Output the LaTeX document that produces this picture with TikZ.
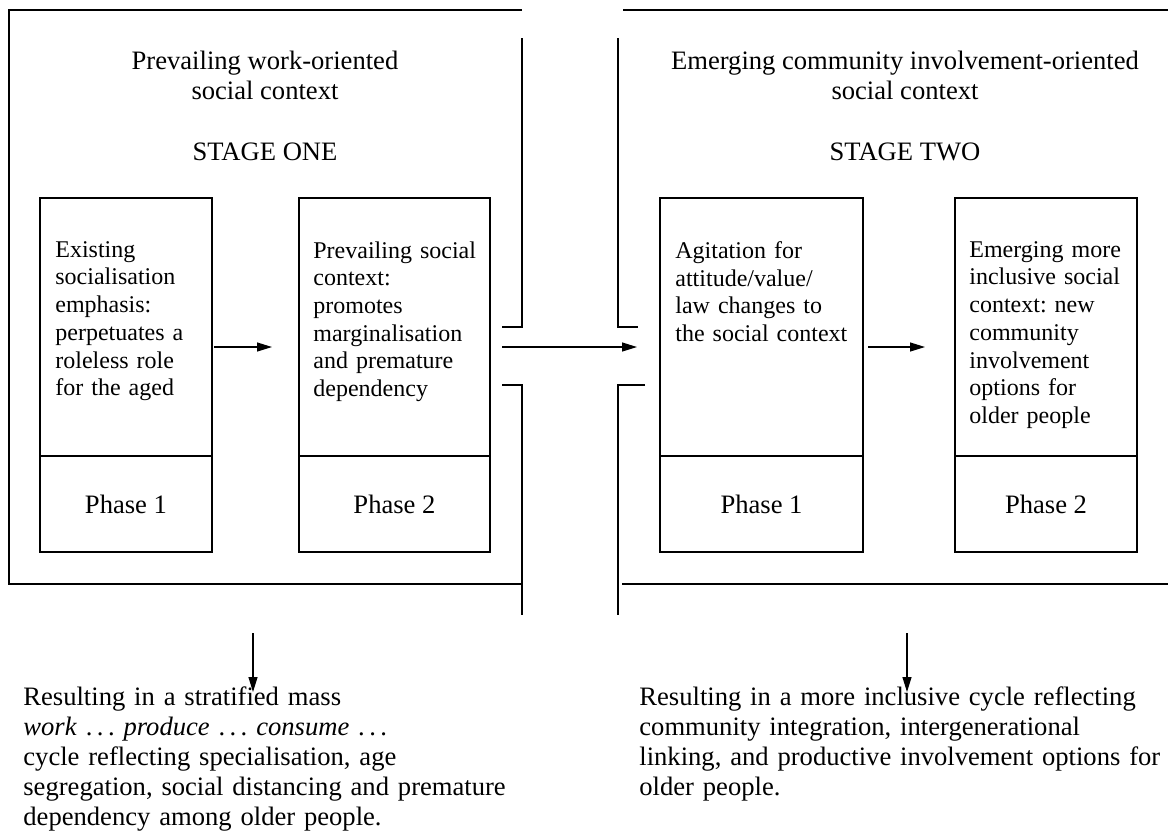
\documentclass[tikz,border=0pt]{standalone}
\usepackage{fontspec}
\setmainfont{Liberation Serif}
\usetikzlibrary{arrows.meta}
\frenchspacing

\begin{document}
\begin{tikzpicture}[x=0.5pt,y=-0.5pt,
    frame/.style={line width=1pt},
    cell/.style={draw,line width=0.9pt,inner sep=0pt,outer sep=0pt,anchor=north west,
      font=\fontsize{13.3}{15}\selectfont},
    boxtext/.style={anchor=north west,inner sep=0pt,text width=95pt,align=left,
      font=\fontsize{12}{13.85}\selectfont},
    heading/.style={align=center,inner sep=0pt,font=\fontsize{13.3}{15}\selectfont},
    result/.style={anchor=north west,inner sep=0pt,text width=265pt,align=left,
      font=\fontsize{13.3}{15.1}\selectfont},
    arr/.style={line width=0.6pt,-{Triangle[length=7.5pt,width=4.5pt]}}]

  \useasboundingbox (0,0) rectangle (1168,832);

  % Stage one frame
  \draw[frame] (522,10) -- (9,10) -- (9,584) -- (522,584);
  \draw[frame] (522,38) -- (522,327) -- (502,327);
  \draw[frame] (502,385) -- (522,385) -- (522,615);

  % Stage two frame
  \draw[frame] (623,10) -- (1168,10);
  \draw[frame] (618,38) -- (618,327) -- (638,327);
  \draw[frame] (645,385) -- (618,385) -- (618,615);
  \draw[frame] (622,584) -- (1168,584);

  % Headings
  \node[heading] (ctxOne) at (265,75) {Prevailing work-oriented\\social context};
  \node[heading,anchor=base] (stageOne) at (265,160) {STAGE ONE};
  \node[heading] (ctxTwo) at (905,75) {Emerging community involvement-oriented\\social context};
  \node[heading,anchor=base] (stageTwo) at (905,160) {STAGE TWO};

  % Phase boxes
  \node[cell,minimum width=86pt,minimum height=129pt] (stepA) at (40,198) {};
  \node[cell,minimum width=86pt,minimum height=48pt] (phaseA) at (stepA.south west) {Phase 1};
  \node[cell,minimum width=95.5pt,minimum height=129pt] (stepB) at (299,198) {};
  \node[cell,minimum width=95.5pt,minimum height=48pt] (phaseB) at (stepB.south west) {Phase 2};
  \node[cell,minimum width=101.5pt,minimum height=129pt] (stepC) at (660,198) {};
  \node[cell,minimum width=101.5pt,minimum height=48pt] (phaseC) at (stepC.south west) {Phase 1};
  \node[cell,minimum width=91pt,minimum height=129pt] (stepD) at (955,198) {};
  \node[cell,minimum width=91pt,minimum height=48pt] (phaseD) at (stepD.south west) {Phase 2};

  % Box texts
  \node[boxtext] (txtA) at (55,241) {Existing\\socialisation\\emphasis:\\perpetuates a\\roleless role\\for the aged};
  \node[boxtext] (txtB) at (313,241) {Prevailing social\\context:\\promotes\\marginalisation\\and premature\\dependency};
  \node[boxtext] (txtC) at (675,241) {Agitation for\\attitude/value/\\law changes to\\the social context};
  \node[boxtext] (txtD) at (969,241) {Emerging more\\inclusive social\\context: new\\community\\involvement\\options for\\older people};

  % Arrows
  \coordinate (tipAB) at (272,347);
  \coordinate (gapL) at (502,347);
  \coordinate (gapR) at (637,347);
  \coordinate (tipCD) at (925,347);
  \draw[arr] ([xshift=1pt]stepA.east |- tipAB) -- (tipAB);
  \draw[arr] (gapL) -- (gapR);
  \draw[arr] ([xshift=2.5pt]stepC.east |- tipCD) -- (tipCD);

  % Results
  \node[result] (resultL) at (23,686) {Resulting in a stratified mass\\
    \textit{work} .\,.\,. \textit{produce} .\,.\,. \textit{consume} .\,.\,.\\
    cycle reflecting specialisation, age\\
    segregation, social distancing and premature\\
    dependency among older people.};
  \node[result] (resultR) at (639,686) {Resulting in a more inclusive cycle reflecting\\
    community integration, intergenerational\\
    linking, and productive involvement options for\\
    older people.};
  \coordinate (outL) at (253,633);
  \coordinate (tipL) at (253,692);
  \coordinate (outR) at (907,633);
  \coordinate (tipR) at (907,692);
  \draw[arr] (outL) -- (tipL);
  \draw[arr] (outR) -- (tipR);

\end{tikzpicture}
\end{document}
